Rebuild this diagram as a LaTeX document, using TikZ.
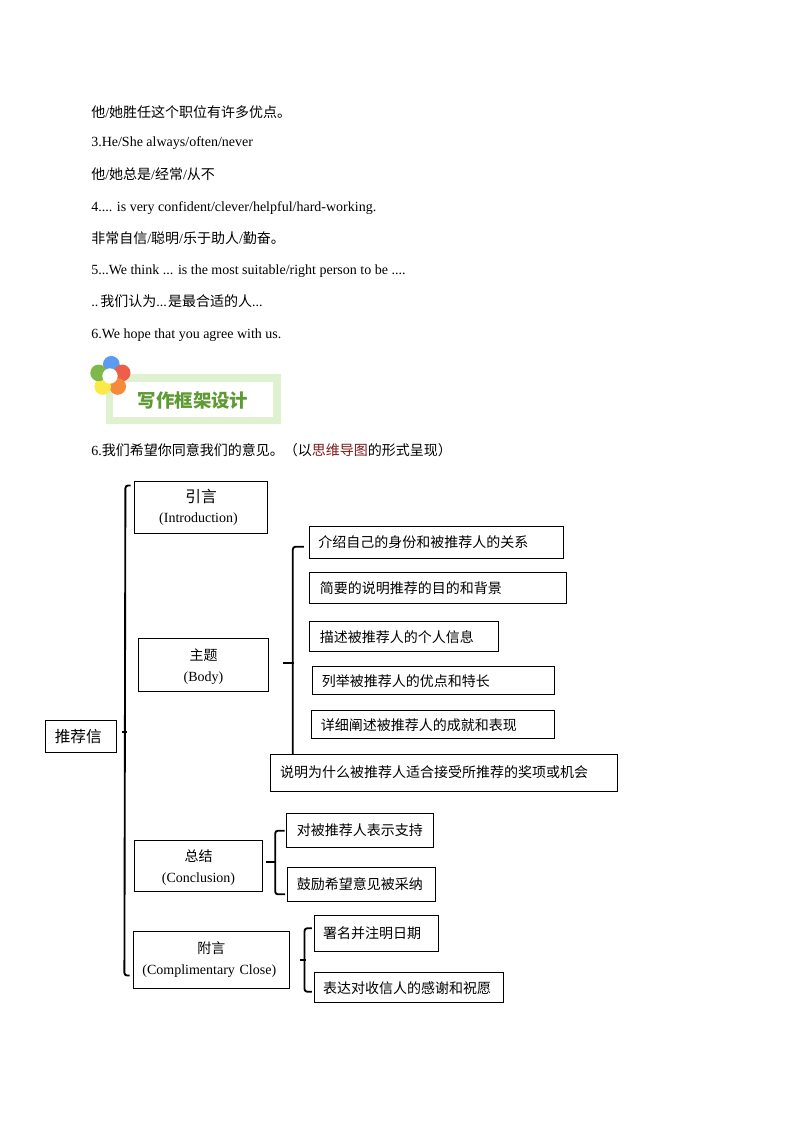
\documentclass[tikz,border=0pt]{standalone}
\usepackage{fontspec}
\setmainfont{Liberation Serif}
\newfontfamily\cjk{Noto Sans CJK SC}
\newcommand{\zh}[1]{{\cjk #1}}
\definecolor{headgreen}{HTML}{DFF2D0}
\definecolor{headtext}{HTML}{5E9A32}
\definecolor{mapred}{HTML}{7A1A1A}
\definecolor{petalblue}{HTML}{5B9BF0}
\definecolor{petalred}{HTML}{EE5F4A}
\definecolor{petalorange}{HTML}{F58A3C}
\definecolor{petalyellow}{HTML}{FBE94A}
\definecolor{petalgreen}{HTML}{7DB84A}
\tikzset{
  x=0.75pt,y=-0.75pt,
  line/.style={anchor=base west,inner sep=0pt,font=\fontsize{10.5pt}{13pt}\selectfont},
  framed/.style={draw=black,line width=0.75pt,fill=white,inner ysep=0pt,font=\fontsize{10.5pt}{13pt}\selectfont},
  brace/.style={draw=black,line width=1.4pt,rounded corners=2pt},
  petal/.style={circle,minimum size=12.5pt,inner sep=0pt,draw=none},
}
% name, x1, y1, x2, y2, left inset, text
\newcommand{\lbox}[7]{\node[framed,align=left,inner xsep=#6*0.75pt,text width={(#4-#2-2*#6)*0.75pt},text height=10.5pt,text depth=1.5pt,minimum height={(#5-#3)*0.75pt}] (#1) at ({(#2+#4)/2},{(#3+#5)/2}) {#7};}
\newcommand{\lboxup}[7]{\node[framed,align=left,inner xsep=#6*0.75pt,text width={(#4-#2-2*#6)*0.75pt},text height=8.75pt,text depth=1.5pt,minimum height={(#5-#3)*0.75pt}] (#1) at ({(#2+#4)/2},{(#3+#5)/2}) {#7};}
\newcommand{\cbox}[6]{\node[framed,align=center,inner xsep=0pt,text width={(#4-#2)*0.75pt},minimum height={(#5-#3)*0.75pt}] (#1) at ({(#2+#4)/2},{(#3+#5)/2}) {#6};}
\begin{document}
\begin{tikzpicture}
\useasboundingbox (0,0) rectangle (794,1123);
\fill[white] (0,0) rectangle (794,1123);
% body text
\node[line] (t1) at (91,117.5) {\zh{他}/\zh{她胜任这个职位有许多优点。}};
\node[line] (t2) at (91,147) {3.He/She always/often/never};
\node[line] (t3) at (91,179.5) {\zh{他}/\zh{她总是}/\zh{经常}/\zh{从不}};
\node[line] (t4) at (91,211.5) {4.... is very confident/clever/helpful/hard-working.};
\node[line] (t5) at (91,243.5) {\zh{非常自信}/\zh{聪明}/\zh{乐于助人}/\zh{勤奋。}};
\node[line] (t6) at (91,274) {5...We think ... is the most suitable/right person to be ....};
\node[line] (t7) at (91,306) {..\hspace{1.5pt}\zh{我们认为}...\hspace{1pt}\zh{是最合适的人}...};
\node[line] (t8) at (91,338) {6.We hope that you agree with us.};
% heading badge
\fill[headgreen] (106,374.3) rectangle (280.7,424.3);
\fill[white] (113.3,382) rectangle (273.3,417.3);
\node[petal,fill=petalblue] (p1) at (111.3,364.3) {};
\node[petal,fill=petalred] (p2) at (122.2,372.9) {};
\node[petal,fill=petalorange] (p3) at (117.7,386.5) {};
\node[petal,fill=petalyellow] (p4) at (102.7,386.5) {};
\node[petal,fill=petalgreen] (p5) at (98.6,372.9) {};
\node[circle,fill=white,minimum size=11.5pt,inner sep=0pt] (p6) at (110,376) {};
\node[inner sep=0pt,text=headtext,font=\cjk\bfseries\fontsize{13.8pt}{16pt}\selectfont] (head) at (193,400.7) {写作框架设计};
\node[line] (t9) at (91,455) {6.\zh{我们希望你同意我们的意见。（以}\textcolor{mapred}{\zh{思维导图}}\zh{的形式呈现）}};
% mind map
\lbox{root}{45.3}{720.3}{116.7}{752.3}{9.5}{{\cjk\fontsize{11.75pt}{14pt}\selectfont 推荐信}}
\cbox{intro}{134.3}{481.3}{267.7}{533.7}{{\cjk\fontsize{11.8pt}{15pt}\selectfont 引言}\\[1.75pt]\hspace*{-3.75pt}(Introduction)}
\cbox{body}{138.3}{638.3}{268.7}{691.7}{\rule{0pt}{11.5pt}\zh{主题}\\[2.75pt](Body)}
\cbox{conc}{134.3}{840.3}{262.7}{891.3}{\rule{0pt}{11.5pt}\zh{总结}\\[2.75pt](Conclusion)}
\cbox{comp}{133.3}{931.3}{289.3}{988.3}{\zh{附言}\\[2.75pt]\hspace*{-3pt}(Complimentary Close)}
\lboxup{b1}{309.3}{526.7}{563.7}{558.3}{9}{\zh{介绍自己的身份和被推荐人的关系}}
\lbox{b2}{309.3}{572.3}{566.7}{603.3}{10.5}{\zh{简要的说明推荐的目的和背景}}
\lbox{b3}{309.3}{621.3}{498.7}{651.3}{10.5}{\zh{描述被推荐人的个人信息}}
\lbox{b4}{312.3}{666.3}{554.7}{694.3}{9.5}{\zh{列举被推荐人的优点和特长}}
\lbox{b5}{311.3}{710.3}{554.7}{738.3}{9.5}{\zh{详细阐述被推荐人的成就和表现}}
\lboxup{b6}{270.7}{754.3}{617.3}{791.3}{9.5}{\zh{说明为什么被推荐人适合接受所推荐的奖项或机会}}
\lboxup{c1}{286.3}{813.3}{433.7}{847.3}{10.5}{\zh{对被推荐人表示支持}}
\lboxup{c2}{287.3}{867.3}{435.7}{901.3}{9.5}{\zh{鼓励希望意见被采纳}}
\lboxup{d1}{314}{915.7}{438.3}{951.3}{9}{\zh{署名并注明日期}}
\lbox{d2}{314}{972.3}{503.7}{1002.3}{9}{\zh{表达对收信人的感谢和祝愿}}
% braces
\draw[brace] ([shift={(-3.3,4.7)}]intro.north west) -- ([shift={(-8.4,4.7)}]intro.north west) -- ([shift={(-8.4,-13.3)}]comp.south west) -- ([shift={(-3.3,-13.3)}]comp.south west);
\draw[brace,sharp corners] ([shift={(5,-4.6)}]root.east) -- ++(4.5,0);
\draw[brace] ([shift={(-5,4.2)}]b1.west) -- ([shift={(-16,4.2)}]b1.west) -- ([xshift=22.6*0.75pt]b6.north west);
\draw[brace,sharp corners] ([shift={(14,-2.3)}]body.east) -- ++(10.6,0);
\draw[brace] ([shift={(-1.3,0.4)}]c1.west) -- ([shift={(-10.6,0.4)}]c1.west) -- ([shift={(-11.6,10)}]c2.west) -- ([shift={(-1.6,10)}]c2.west);
\draw[brace,sharp corners] ([shift={(3,-3.5)}]conc.east) -- ++(10,0);
\draw[brace] ([shift={(-1.7,-5.2)}]d1.west) -- ([shift={(-9,-5.2)}]d1.west) -- ([shift={(-9,4.4)}]d2.west) -- ([shift={(-1.7,4.4)}]d2.west);
\draw[brace,sharp corners] ([shift={(10,0.2)}]comp.east) -- ++(5.7,0);
\end{tikzpicture}
\end{document}
